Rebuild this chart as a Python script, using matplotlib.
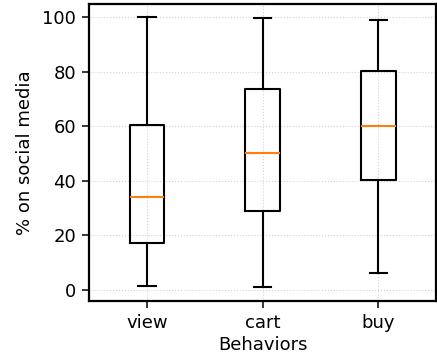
import matplotlib
matplotlib.use("Agg")
import matplotlib.pyplot as plt

# box statistics
behaviors = ["view", "cart", "buy"]
whisker_low = [1.5, 0.9, 6.1]
q1 = [17.0, 28.8, 40.3]
medians = [33.9, 50.2, 60.0]
q3 = [60.6, 73.6, 80.2]
whisker_high = [99.9, 99.8, 99.0]

plt.rcParams["font.size"] = 13

fig, ax = plt.subplots(figsize=(4.37, 3.62), dpi=100)
fig.subplots_adjust(left=0.204, right=0.998, bottom=0.169, top=0.989)

stats = []
for name, lo, a, m, b, hi in zip(behaviors, whisker_low, q1, medians, q3, whisker_high):
    stats.append({"label": name, "whislo": lo, "q1": a, "med": m,
                  "q3": b, "whishi": hi, "fliers": []})

line = {"linewidth": 1.5, "color": "black"}
ax.bxp(stats, widths=0.3, showfliers=False,
       boxprops=line, whiskerprops=line, capprops=line,
       medianprops={"linewidth": 1.5, "color": "C1"})

ax.grid(True, linestyle=":", color="lightgray", linewidth=0.8)
ax.set_axisbelow(True)
for s in ax.spines.values():
    s.set_linewidth(1.6)
ax.tick_params(length=5, width=1.1, pad=4.5)

ax.set_xlabel("Behaviors", labelpad=3)
ax.set_ylabel("% on social media", labelpad=6)

fig.savefig("out.png")
